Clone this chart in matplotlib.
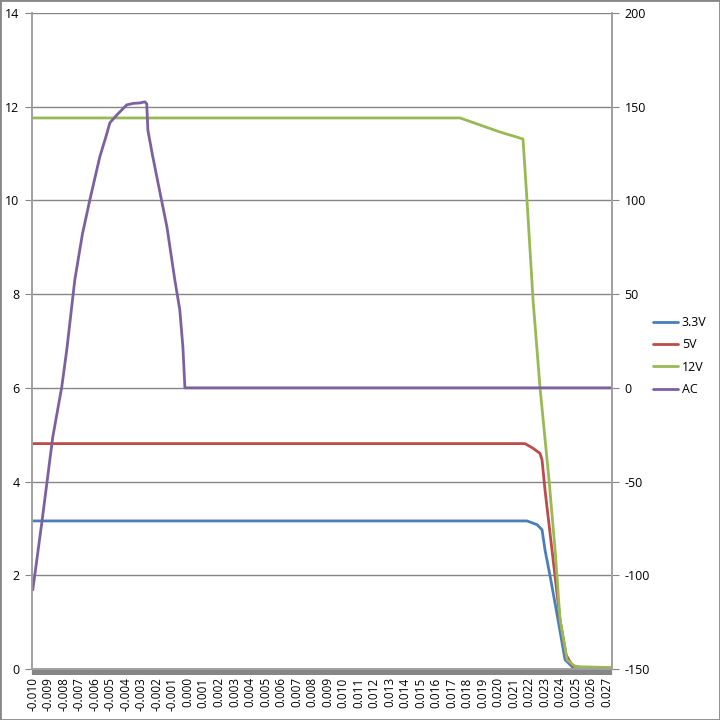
import numpy as np
from matplotlib import pyplot as plt
from matplotlib.ticker import MultipleLocator, FormatStrFormatter
from matplotlib.patches import Rectangle

# values (time in s, rails in V, AC in V)
t_33 = [-0.0100, 0.02187, 0.02252, 0.02284, 0.02303, 0.02335, 0.02387, 0.02432, 0.02484, 0.02735]
v_33 = [3.16, 3.16, 3.08, 2.97, 2.54, 2.00, 1.05, 0.20, 0.03, 0.02]

t_5 = [-0.0100, 0.02174, 0.02226, 0.02271, 0.02284, 0.02303, 0.02348, 0.02374, 0.02400, 0.02439, 0.02477, 0.02529, 0.02735]
v_5 = [4.81, 4.81, 4.71, 4.60, 4.46, 3.82, 2.54, 1.80, 1.05, 0.30, 0.08, 0.03, 0.02]

t_12 = [-0.0100, 0.01755, 0.02013, 0.02123, 0.02161, 0.02187, 0.02226, 0.02271, 0.02329, 0.02368, 0.02400, 0.02445, 0.02497, 0.02735]
v_12 = [11.76, 11.76, 11.46, 11.35, 11.31, 10.00, 7.87, 6.00, 4.03, 2.54, 1.05, 0.20, 0.05, 0.03]

t_ac = [-0.0100, -0.00942, -0.00871, -0.00813, -0.00781, -0.00729, -0.00680, -0.00632, -0.00568,
        -0.00530, -0.00503, -0.00458, -0.00420, -0.00394, -0.00350, -0.00310, -0.00277, -0.00265,
        -0.00258, -0.00230, -0.00200, -0.00135, -0.00084, -0.00052, -0.00032, -0.00019, 0.02735]
v_ac = [-107.8, -72.1, -26.2, 0.5, 20.2, 57.6, 82.0, 100.3, 123.2,
        133.5, 141.4, 145.6, 148.8, 151.0, 151.8, 152.0, 152.6, 151.5,
        137.6, 125.0, 112.5, 85.9, 57.6, 41.6, 21.8, 0.0, 0.0]

grey = '#868686'
plt.rcParams['font.family'] = 'Open Sans'
plt.rcParams['axes.unicode_minus'] = False

fig = plt.figure(figsize=(7.2, 7.2), dpi=100)
ax = fig.add_axes([32 / 720, 51 / 720, 580 / 720, 656 / 720])
ax2 = ax.twinx()

style = dict(lw=2.0, solid_joinstyle='round', solid_capstyle='round')
l1, = ax.plot(t_33, v_33, color='#4A7EBB', label='3.3V', **style)
l2, = ax.plot(t_5, v_5, color='#BE4B48', label='5V', **style)
l3, = ax.plot(t_12, v_12, color='#98B954', label='12V', **style)
l4, = ax2.plot(t_ac, v_ac, color='#7D60A0', label='AC', **style)

ax.set_xlim(-0.01005, 0.02735)
ax.set_ylim(0, 14)
ax2.set_ylim(-150, 200)
ax.yaxis.set_major_locator(MultipleLocator(2))
ax2.yaxis.set_major_locator(MultipleLocator(50))
ax.xaxis.set_major_locator(MultipleLocator(0.001))
ax.xaxis.set_minor_locator(MultipleLocator(0.0001))
ax.xaxis.set_major_formatter(FormatStrFormatter('%.3f'))

ax.grid(axis='y', color=grey, lw=1.0)
ax.set_axisbelow(True)
for a in (ax, ax2):
    a.spines['top'].set_visible(False)
    for s in ('left', 'right', 'bottom'):
        a.spines[s].set_color('#a0a0a0')
        a.spines[s].set_linewidth(1.2)

ax.tick_params(axis='x', which='major', direction='out', length=4, width=1.6,
               color=grey, labelrotation=90, labelsize=8.5, pad=2)
ax.tick_params(axis='x', which='minor', direction='out', length=4, width=1.6, color=grey)
ax.tick_params(axis='y', direction='out', length=5, color=grey, labelsize=9, pad=4)
ax2.tick_params(axis='y', direction='out', length=5, color=grey, labelsize=9, pad=4)

fig.legend(handles=[l1, l2, l3, l4], loc='upper left', bbox_to_anchor=(653 / 720, 1 - 316 / 720),
           frameon=False, fontsize=9, handlelength=2.0, handletextpad=0.3, labelspacing=0.75,
           borderaxespad=0, borderpad=0)

fig.patches.append(Rectangle((0, 0), 1, 1, transform=fig.transFigure, fill=False,
                             edgecolor='#878787', lw=2))

plt.savefig('out.png', dpi=100)
